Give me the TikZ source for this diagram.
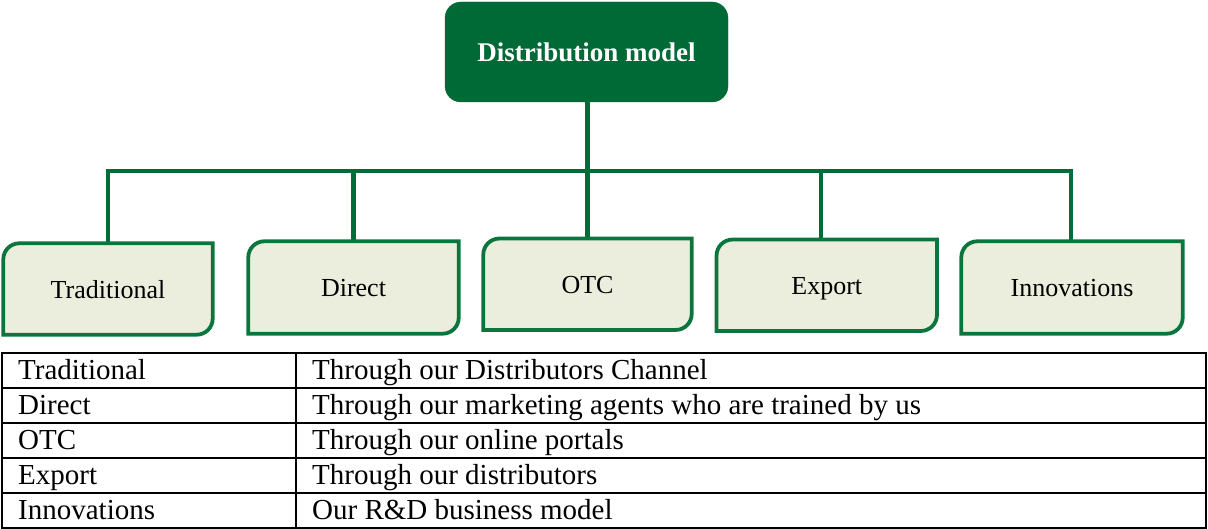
\documentclass[tikz,border=0pt]{standalone}
\usepackage{fontspec}
\setmainfont{Liberation Serif}
\definecolor{dkgreen}{RGB}{0,106,54}
\definecolor{lngreen}{RGB}{0,108,56}
\definecolor{bxgreen}{RGB}{10,118,62}
\definecolor{bxfill}{RGB}{235,238,221}
\tikzset{
  topbox/.style={rectangle, rounded corners=16pt, fill=dkgreen, draw=dkgreen, text=white,
    font=\fontsize{27}{30}\selectfont\bfseries, inner sep=0pt},
  chan/.style={rectangle, inner sep=0pt, font=\fontsize{26}{28}\selectfont, text height=19pt, text depth=0pt},
  chanline/.style={draw=bxgreen, fill=bxfill, line width=3.8pt},
  conn/.style={draw=lngreen, line width=4.5pt},
  cell/.style={anchor=base west, inner sep=0pt, font=\fontsize{29}{32}\selectfont},
  tline/.style={draw=black, line width=2pt},
}
\newcommand{\chanshape}[2]{%
  \draw[chanline] ([yshift=-#2pt]#1.north west) arc[start angle=180,end angle=90,radius=#2pt]
    -- (#1.north east) -- ([yshift=#2pt]#1.south east) arc[start angle=0,end angle=-90,radius=#2pt]
    -- (#1.south west) -- cycle;}
\begin{document}
\begin{tikzpicture}[x=1pt,y=1pt]
\useasboundingbox (0,0) rectangle (1208,529);
% top box
\node[topbox, minimum width=283pt, minimum height=100pt] (top) at (586.5,477) {Distribution model};
% channel nodes (invisible frames)
\node[chan, minimum width=209pt, minimum height=91pt] (trad) at (108,240) {Traditional};
\node[chan, minimum width=210pt, minimum height=92pt] (direct) at (353.5,241.5) {Direct};
\node[chan, minimum width=208pt, minimum height=91pt] (otc) at (587.5,244.75) {OTC};
\node[chan, minimum width=220pt, minimum height=91pt] (export) at (826.75,243.75) {Export};
\node[chan, minimum width=221pt, minimum height=92pt] (inno) at (1072,241.5) {Innovations};
% connectors
\coordinate (c1) at (108,358);
\coordinate (c2) at (353.7,358);
\coordinate (c3) at (587.5,358);
\coordinate (c4) at (821,358);
\coordinate (c5) at (1071,358);
\draw[conn] (top.south -| c3) -- (c3);
\draw[conn] ([xshift=-2.25pt]c1) -- ([xshift=2.25pt]c5);
\draw[conn] (c1) -- (c1 |- trad.north);
\draw[conn] (c2) -- (c2 |- direct.north);
\draw[conn] (c3) -- (c3 |- otc.north);
\draw[conn] (c4) -- (c4 |- export.north);
\draw[conn] (c5) -- (c5 |- inno.north);
% channel shapes
\chanshape{trad}{16}
\chanshape{direct}{16}
\chanshape{otc}{16}
\chanshape{export}{16}
\chanshape{inno}{16}
\node[chan] at (trad) {Traditional};
\node[chan] at (direct) {Direct};
\node[chan] at (otc) {OTC};
\node[chan] at (export) {Export};
\node[chan] at (inno) {Innovations};
% table
\draw[tline] (2,1) rectangle (1206,176);
\foreach \yy in {141,106,71,36} \draw[tline] (2,\yy) -- (1206,\yy);
\draw[tline] (296,1) -- (296,176);
\node[cell] (k1) at (18,149) {Traditional};
\node[cell] (v1) at (312,149) {Through our Distributors Channel};
\node[cell] (k2) at (18,114) {Direct};
\node[cell] (v2) at (312,114) {Through our marketing agents who are trained by us};
\node[cell] (k3) at (18,79) {OTC};
\node[cell] (v3) at (312,79) {Through our online portals};
\node[cell] (k4) at (18,44) {Export};
\node[cell] (v4) at (312,44) {Through our distributors};
\node[cell] (k5) at (18,9) {Innovations};
\node[cell] (v5) at (312,9) {Our R\&D business model};
\end{tikzpicture}
\end{document}
